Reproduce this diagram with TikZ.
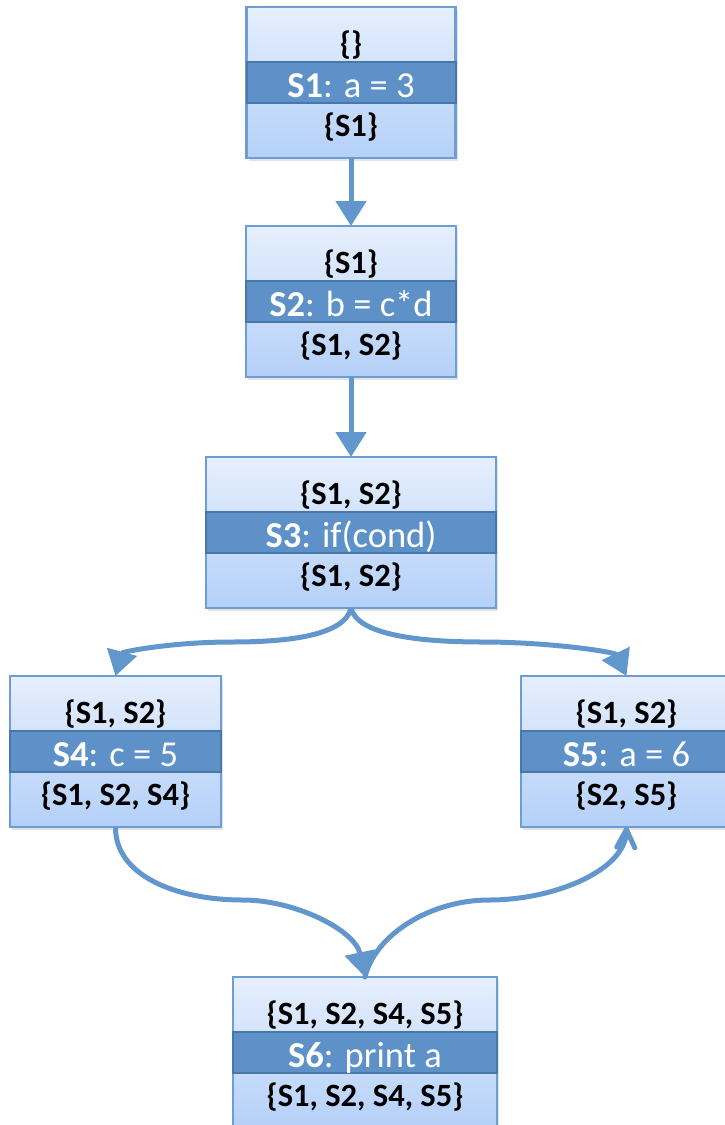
\documentclass[tikz,border=0pt]{standalone}
\usepackage{fontspec}
\setmainfont{Carlito}
\usetikzlibrary{calc,arrows.meta,shadows}
\definecolor{boxtop}{HTML}{E6EFFD}
\definecolor{boxbot}{HTML}{B4D0F8}
\definecolor{boxborder}{HTML}{6C9DD3}
\definecolor{bandfill}{HTML}{5D91C8}
\definecolor{bandborder}{HTML}{4877AA}
\definecolor{arrowc}{HTML}{6197CD}
\tikzset{
  stmtbox/.style={draw=boxborder, line width=2.5pt, top color=boxtop, bottom color=boxbot,
    minimum height=151pt, inner sep=0pt, outer sep=0pt, anchor=north,
    drop shadow={opacity=0.22, shadow xshift=2pt, shadow yshift=-3pt}},
  bandbox/.style={draw=bandborder, line width=2pt, fill=bandfill, minimum height=41pt,
    inner sep=0pt, outer sep=0pt, anchor=north},
  settext/.style={anchor=base, font=\fontsize{32.5}{38}\selectfont\bfseries, text=black, inner sep=0pt},
  stmttext/.style={anchor=base, font=\fontsize{36.5}{42}\selectfont, text=white, inner sep=0pt},
  flow/.style={draw=arrowc, line width=5pt, -{Triangle[length=25pt,width=30pt]}},
  flowopen/.style={draw=arrowc, line width=5pt, line cap=round, -{Straight Barb[length=18pt,width=18pt,round]}},
}
\newcommand\stmtnode[7]{%
  \node[stmtbox, minimum width=#4pt] (#1) at (#2,#3) {};
  \node[bandbox, minimum width=#4pt] (#1b) at ($(#1.north)+(0,55)$) {};
  \node[stmttext] (#1s) at ($(#1.north)+(0,90.5)$) {#6};
  \node[settext] (#1i) at ($(#1.north)+(0,47.5)$) {#5};
  \node[settext] (#1o) at ($(#1.north)+(0,129.5)$) {#7};
}
\begin{document}
\begin{tikzpicture}[x=1pt,y=-1pt]
\useasboundingbox (0,0) rectangle (725,1125);
\clip (0,0) rectangle (725,1125);
\stmtnode{s1}{351}{7}{209}{\{\}}{\textbf{S1}: a = 3}{\{S1\}}
\stmtnode{s2}{351}{226}{210}{\{S1\}}{\textbf{S2}: b = c*d}{\{S1, S2\}}
\stmtnode{s3}{351}{457}{290}{\{S1, S2\}}{\textbf{S3}: if(cond)}{\{S1, S2\}}
\stmtnode{s4}{115.5}{676}{211}{\{S1, S2\}}{\textbf{S4}: c = 5}{\{S1, S2, S4\}}
\stmtnode{s5}{626.5}{676}{211}{\{S1, S2\}}{\textbf{S5}: a = 6}{\{S2, S5\}}
\stmtnode{s6}{365}{977}{264}{\{S1, S2, S4, S5\}}{\textbf{S6}: print a}{\{S1, S2, S4, S5\}}
\draw[flow] (s1.south) -- (s2.north);
\draw[flow] (s2.south) -- (s3.north);
\draw[flow] (s3.south) .. controls (345,635) and (290,642) .. (232,642)
  .. controls (170,642) and (122,652) .. (s4.north);
\draw[flow] (s3.south) .. controls (357,635) and (420,642) .. (482,642)
  .. controls (550,642) and (615,652) .. (s5.north);
\draw[flow] (s4.south) .. controls (115,875) and (175,900) .. (243,900)
  .. controls (295,900) and (355,930) .. (s6.north);
\draw[flowopen] (s6.north) .. controls (375,935) and (430,900) .. (489,900)
  .. controls (555,900) and (625,870) .. (s5.south);
\end{tikzpicture}
\end{document}
